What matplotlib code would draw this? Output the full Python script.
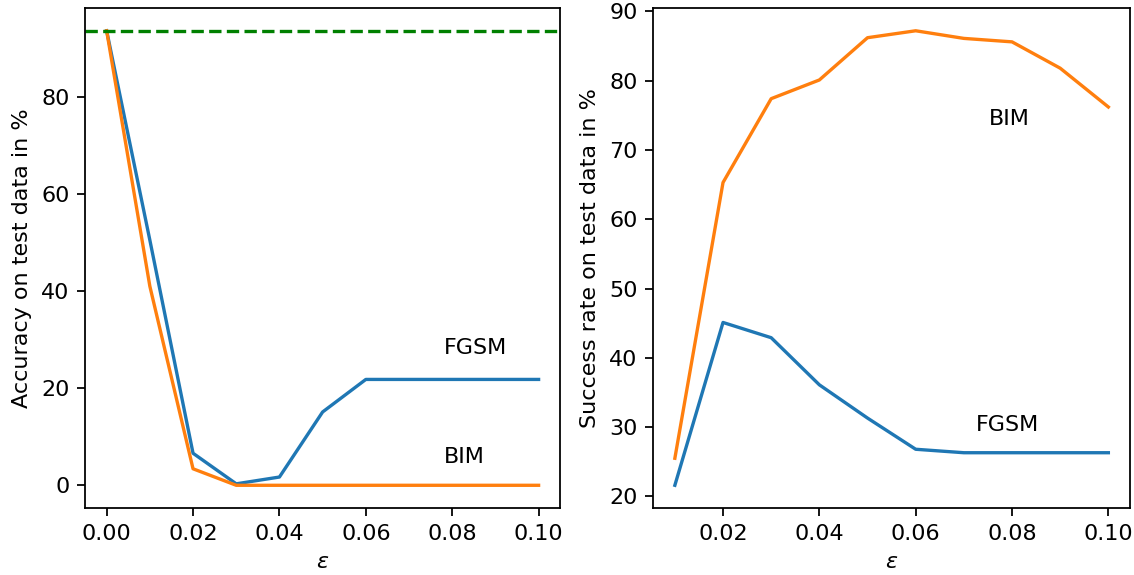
import matplotlib
matplotlib.use("Agg")
import matplotlib.pyplot as plt

# epsilon values
eps_acc = [0.00, 0.01, 0.02, 0.03, 0.04, 0.05, 0.06, 0.07, 0.08, 0.09, 0.10]
eps_succ = [0.01, 0.02, 0.03, 0.04, 0.05, 0.06, 0.07, 0.08, 0.09, 0.10]

# accuracy on test data (%)
acc_fgsm = [93.6, 50.5, 6.6, 0.3, 1.7, 15.1, 21.8, 21.8, 21.8, 21.8, 21.8]
acc_bim = [93.6, 41.0, 3.4, 0.0, 0.0, 0.0, 0.0, 0.0, 0.0, 0.0, 0.0]
clean_acc = 93.6

# success rate on test data (%)
succ_fgsm = [21.6, 45.1, 42.9, 36.1, 31.3, 26.8, 26.3, 26.3, 26.3, 26.3]
succ_bim = [25.5, 65.3, 77.4, 80.1, 86.2, 87.2, 86.1, 85.6, 81.8, 76.2]

DPI = 160
fig = plt.figure(figsize=(1134 / DPI, 575 / DPI), dpi=DPI)
ax1 = fig.add_axes([0.075, 0.1165, 0.419, 0.8695])
ax2 = fig.add_axes([0.576, 0.1165, 0.4205, 0.8695])

# --- left: accuracy ---
ax1.plot(eps_acc, acc_fgsm, color="C0")
ax1.plot(eps_acc, acc_bim, color="C1")
ax1.axhline(clean_acc, color="green", linestyle="--")
ax1.text(0.078, 27, "FGSM")
ax1.text(0.078, 4.5, "BIM")
ax1.set_xlabel(r"$\varepsilon$")
ax1.set_ylabel("Accuracy on test data in %")

# --- right: success rate ---
ax2.plot(eps_succ, succ_fgsm, color="C0")
ax2.plot(eps_succ, succ_bim, color="C1")
ax2.text(0.0752, 73.6, "BIM")
ax2.text(0.0724, 29.4, "FGSM")
ax2.set_xlabel(r"$\varepsilon$")
ax2.set_ylabel("Success rate on test data in %")

fig.savefig("out.png", dpi=DPI)
